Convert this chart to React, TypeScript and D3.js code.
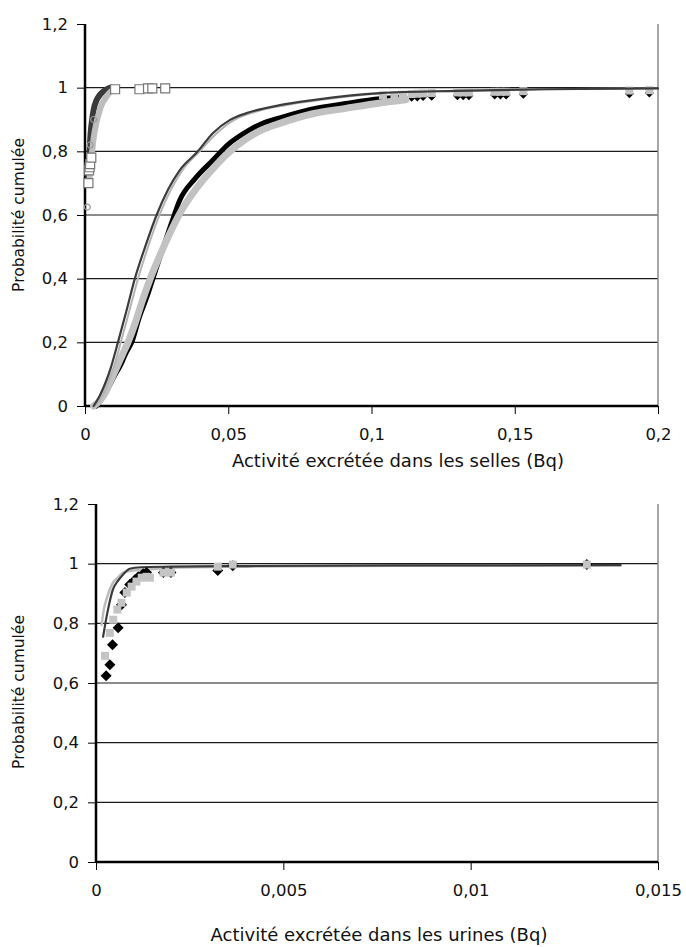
import React, { useEffect, useRef } from "react";
import * as d3 from "d3";

// ---- Top chart : activité dans les selles ----
const selTicksX = [0, 0.05, 0.1, 0.15, 0.2];
const selTickLabelsX = ["0", "0,05", "0,1", "0,15", "0,2"];

// fitted curves (lines)
const selFitDarkX = [0.003, 0.005, 0.007, 0.009, 0.0115, 0.0145, 0.0174, 0.021, 0.025, 0.029, 0.0331, 0.0394, 0.0446, 0.0505, 0.0564, 0.068, 0.0795, 0.103, 0.13, 0.16, 0.2];
const selFitDarkY = [0, 0.03, 0.07, 0.12, 0.2, 0.3, 0.4, 0.5, 0.6, 0.68, 0.741, 0.8, 0.857, 0.898, 0.92, 0.945, 0.961, 0.983, 0.99, 0.995, 0.998];
const selFitLightX = [0.0035, 0.006, 0.008, 0.01, 0.0125, 0.0155, 0.0185, 0.022, 0.026, 0.03, 0.034, 0.04, 0.046, 0.052, 0.058, 0.07, 0.082, 0.105, 0.13, 0.16, 0.2];
const selFitLightY = [0, 0.03, 0.07, 0.12, 0.2, 0.3, 0.4, 0.5, 0.6, 0.68, 0.741, 0.8, 0.857, 0.898, 0.92, 0.945, 0.961, 0.983, 0.99, 0.995, 0.998];

// measured data (dense markers)
const selNoirX = [0.004, 0.006, 0.008, 0.01, 0.0125, 0.0145, 0.0163, 0.019, 0.0215, 0.0237, 0.027, 0.03, 0.0331, 0.0385, 0.0446, 0.05, 0.0564, 0.062, 0.068, 0.0795, 0.091, 0.103, 0.11];
const selNoirY = [0, 0.025, 0.055, 0.09, 0.13, 0.17, 0.2, 0.28, 0.34, 0.4, 0.49, 0.57, 0.647, 0.715, 0.772, 0.822, 0.862, 0.888, 0.905, 0.933, 0.95, 0.965, 0.97];
const selGrisX = [0.003, 0.005, 0.007, 0.009, 0.011, 0.013, 0.015, 0.0175, 0.02, 0.0226, 0.026, 0.0295, 0.0331, 0.039, 0.0446, 0.05, 0.0564, 0.062, 0.068, 0.0795, 0.091, 0.103, 0.112];
const selGrisY = [0, 0.015, 0.04, 0.08, 0.12, 0.16, 0.2, 0.26, 0.33, 0.396, 0.47, 0.54, 0.605, 0.685, 0.745, 0.795, 0.84, 0.868, 0.888, 0.918, 0.935, 0.952, 0.962];
const selQueueX = [0.104, 0.108, 0.111, 0.114, 0.116, 0.118, 0.121, 0.13, 0.132, 0.134, 0.143, 0.145, 0.147, 0.153, 0.19, 0.197];
const selQueueNoirY = [0.968, 0.966, 0.968, 0.97, 0.971, 0.972, 0.973, 0.975, 0.975, 0.975, 0.977, 0.977, 0.977, 0.979, 0.981, 0.983];
const selQueueGrisY = [0.976, 0.975, 0.978, 0.98, 0.981, 0.982, 0.983, 0.985, 0.985, 0.985, 0.987, 0.987, 0.987, 0.989, 0.991, 0.992];

// urine data drawn on the same axes (left cluster)
const uriBandeSombreX = [0.0012, 0.0016, 0.002, 0.0025, 0.003, 0.004, 0.005, 0.006, 0.007, 0.008, 0.009];
const uriBandeSombreY = [0.72, 0.8, 0.86, 0.9, 0.93, 0.96, 0.975, 0.985, 0.992, 0.997, 1.0];
const uriBandeGrisX = [0.0015, 0.002, 0.0025, 0.003, 0.004, 0.005, 0.006, 0.007, 0.008, 0.009, 0.0105];
const uriBandeGrisY = [0.7, 0.76, 0.8, 0.84, 0.89, 0.925, 0.95, 0.965, 0.978, 0.988, 0.995];
const uriCarresX = [0.0012, 0.0014, 0.0016, 0.0018, 0.0022, 0.0105, 0.019, 0.022, 0.0235, 0.028];
const uriCarresY = [0.7, 0.74, 0.75, 0.76, 0.78, 0.995, 0.995, 0.998, 0.998, 0.998];
const uriRondsX = [0.0008, 0.0018, 0.003];
const uriRondsY = [0.625, 0.82, 0.9];

// ---- Bottom chart : activité dans les urines ----
const uriTicksX = [0, 0.005, 0.01, 0.015];
const uriTickLabelsX = ["0", "0,005", "0,01", "0,015"];
const uriFitDarkX = [0.00019, 0.00025, 0.00032, 0.00045, 0.0006, 0.00072, 0.0009, 0.0012, 0.002, 0.004, 0.008, 0.014];
const uriFitDarkY = [0.755, 0.8, 0.846, 0.913, 0.945, 0.963, 0.983, 0.988, 0.99, 0.992, 0.994, 0.995];
const uriFitLightX = [0.00015, 0.0002, 0.0003, 0.00045, 0.0006, 0.00072, 0.001, 0.00136, 0.0022, 0.004, 0.008, 0.014];
const uriFitLightY = [0.795, 0.84, 0.889, 0.936, 0.955, 0.97, 0.977, 0.98, 0.987, 0.99, 0.993, 0.995];
const uriLosangesX = [0.00027, 0.00037, 0.00044, 0.00059, 0.00068, 0.00077, 0.0009, 0.00104, 0.00113, 0.00126, 0.00135, 0.0018, 0.002, 0.00325, 0.00365, 0.0131];
const uriLosangesY = [0.624, 0.661, 0.728, 0.785, 0.862, 0.903, 0.93, 0.946, 0.956, 0.966, 0.97, 0.97, 0.97, 0.977, 0.993, 0.997];
const uriGrisX = [0.00024, 0.00037, 0.00046, 0.00057, 0.00068, 0.00082, 0.00095, 0.00108, 0.00122, 0.00135, 0.00144, 0.0018, 0.002, 0.00325, 0.00365, 0.0131];
const uriGrisY = [0.691, 0.768, 0.812, 0.846, 0.869, 0.903, 0.923, 0.94, 0.953, 0.956, 0.953, 0.97, 0.97, 0.99, 0.997, 0.997];

const ticksY = [0, 0.2, 0.4, 0.6, 0.8, 1, 1.2];
const tickLabelsY = ["0", "0,2", "0,4", "0,6", "0,8", "1", "1,2"];

const FONT = "DejaVu Sans, Verdana, sans-serif";

const pts = (xs: number[], ys: number[]) => xs.map((x, i) => [x, ys[i]] as [number, number]);

// Excel-like marker shapes (equal width / height)
const diamondPath = (r: number) => `M0,${-r}L${r},0L0,${r}L${-r},0Z`;
const squarePath = (r: number) => `M${-r},${-r}H${r}V${r}H${-r}Z`;
const circlePath = (r: number) => d3.symbol().type(d3.symbolCircle).size(Math.PI * r * r)();

function drawFrame(g, x, y, xTicks, xLabels, xTitle, labelDy, titleX, titleY, ylabelY) {
  const [x0, x1] = x.range();
  const [y0, y1] = y.range();

  // gridlines
  g.append("g")
    .selectAll("line")
    .data(ticksY.filter((t) => t > 0 && t < 1.2))
    .enter()
    .append("line")
    .attr("x1", x0)
    .attr("x2", x1)
    .attr("y1", (d) => y(d))
    .attr("y2", (d) => y(d))
    .attr("stroke", "#1a1a1a")
    .attr("stroke-width", 1.2);

  // right border
  g.append("line")
    .attr("x1", x1).attr("x2", x1)
    .attr("y1", y1).attr("y2", y0)
    .attr("stroke", "#8a8a8a").attr("stroke-width", 1.5);

  // y axis
  const ya = g.append("g").attr("transform", `translate(${x0},0)`)
    .call(d3.axisLeft(y).tickValues(ticksY).tickSize(8).tickFormat((d, i) => tickLabelsY[i]));
  ya.select(".domain").attr("stroke", "#000").attr("stroke-width", 2.5).attr("d", `M0,${y1}V${y0}`);
  ya.selectAll(".tick line").attr("stroke", "#000").attr("stroke-width", 1);
  ya.selectAll(".tick text").attr("x", -17).attr("font-family", FONT).attr("font-size", 16.5).attr("fill", "#111");

  // x axis
  const xa = g.append("g").attr("transform", `translate(0,${y0})`)
    .call(d3.axisBottom(x).tickValues(xTicks).tickSize(8).tickFormat((d, i) => xLabels[i]));
  xa.select(".domain").attr("stroke", "#000").attr("stroke-width", 2.5).attr("d", `M${x0},0H${x1}`);
  xa.selectAll(".tick line").attr("stroke", "#000").attr("stroke-width", 1);
  xa.selectAll(".tick text").attr("y", labelDy).attr("dy", 0).attr("font-family", FONT).attr("font-size", 16.5).attr("fill", "#111");

  g.append("text")
    .attr("x", titleX)
    .attr("y", titleY)
    .attr("text-anchor", "middle")
    .attr("font-family", FONT)
    .attr("font-size", 18)
    .attr("fill", "#111")
    .text(xTitle);

  g.append("text")
    .attr("transform", `translate(24,${ylabelY}) rotate(-90)`)
    .attr("text-anchor", "middle")
    .attr("font-family", FONT)
    .attr("font-size", 15.5)
    .attr("fill", "#111")
    .text("Probabilité cumulée");
}

function drawPath(g, x, y, data, color, width) {
  const line = d3.line().x((d) => x(d[0])).y((d) => y(d[1])).curve(d3.curveMonotoneX);
  g.append("path")
    .attr("d", line(data))
    .attr("fill", "none")
    .attr("stroke", color)
    .attr("stroke-width", width)
    .attr("stroke-linejoin", "round")
    .attr("stroke-linecap", "round");
}

function drawMarkers(g, x, y, data, shape, fill, stroke) {
  g.append("g")
    .selectAll("path")
    .data(data)
    .enter()
    .append("path")
    .attr("transform", (d) => `translate(${x(d[0])},${y(d[1])})`)
    .attr("d", shape)
    .attr("fill", fill)
    .attr("stroke", stroke)
    .attr("stroke-width", stroke === "none" ? 0 : 1.2);
}

function drawCharts(svgEl) {
  const svg = d3.select(svgEl);
  svg.selectAll("*").remove();

  // top
  const xs = d3.scaleLinear().domain([0, 0.2]).range([85, 658]);
  const ys = d3.scaleLinear().domain([0, 1.2]).range([406, 24]);
  const top = svg.append("g");
  drawFrame(top, xs, ys, selTicksX, selTickLabelsX, "Activité excrétée dans les selles (Bq)", 34, 398, 467, 215);

  drawPath(top, xs, ys, pts(uriBandeSombreX, uriBandeSombreY), "#3a3a3a", 6);
  drawPath(top, xs, ys, pts(uriBandeGrisX, uriBandeGrisY), "#bdbdbd", 6);
  drawMarkers(top, xs, ys, pts(uriRondsX, uriRondsY), circlePath(3), "none", "#999");
  drawMarkers(top, xs, ys, pts(uriCarresX, uriCarresY), squarePath(4.5), "white", "#777");

  drawPath(top, xs, ys, pts(selNoirX, selNoirY), "#000", 5);
  drawMarkers(top, xs, ys, pts(selQueueX, selQueueNoirY), diamondPath(4.5), "#000", "none");
  drawPath(top, xs, ys, pts(selGrisX, selGrisY), "#c2c2c2", 7);
  drawMarkers(top, xs, ys, pts(selQueueX, selQueueGrisY), squarePath(4), "#c2c2c2", "none");
  drawPath(top, xs, ys, pts(selFitLightX, selFitLightY), "#b4b4b4", 2);
  drawPath(top, xs, ys, pts(selFitDarkX, selFitDarkY), "#3c3c3c", 2.2);

  // bottom
  const xb = d3.scaleLinear().domain([0, 0.015]).range([96, 658]);
  const yb = d3.scaleLinear().domain([0, 1.2]).range([862, 504]);
  const bot = svg.append("g");
  drawFrame(bot, xb, yb, uriTicksX, uriTickLabelsX, "Activité excrétée dans les urines (Bq)", 34, 379, 941, 692);

  drawPath(bot, xb, yb, pts(uriFitLightX, uriFitLightY), "#bcbcbc", 2.5);
  drawPath(bot, xb, yb, pts(uriFitDarkX, uriFitDarkY), "#3a3a3a", 2.2);
  drawMarkers(bot, xb, yb, pts(uriLosangesX, uriLosangesY), diamondPath(5.5), "#000", "none");
  drawMarkers(bot, xb, yb, pts(uriGrisX, uriGrisY), squarePath(4), "#c4c4c4", "none");
}

const App = () => {
  const ref = useRef<SVGSVGElement>(null);

  useEffect(() => {
    document.body.style.margin = "0";
    if (ref.current) drawCharts(ref.current);
  }, []);

  return (
    <svg ref={ref} width={686} height={947} style={{ display: "block", background: "#fff" }} />
  );
};

export default App;
